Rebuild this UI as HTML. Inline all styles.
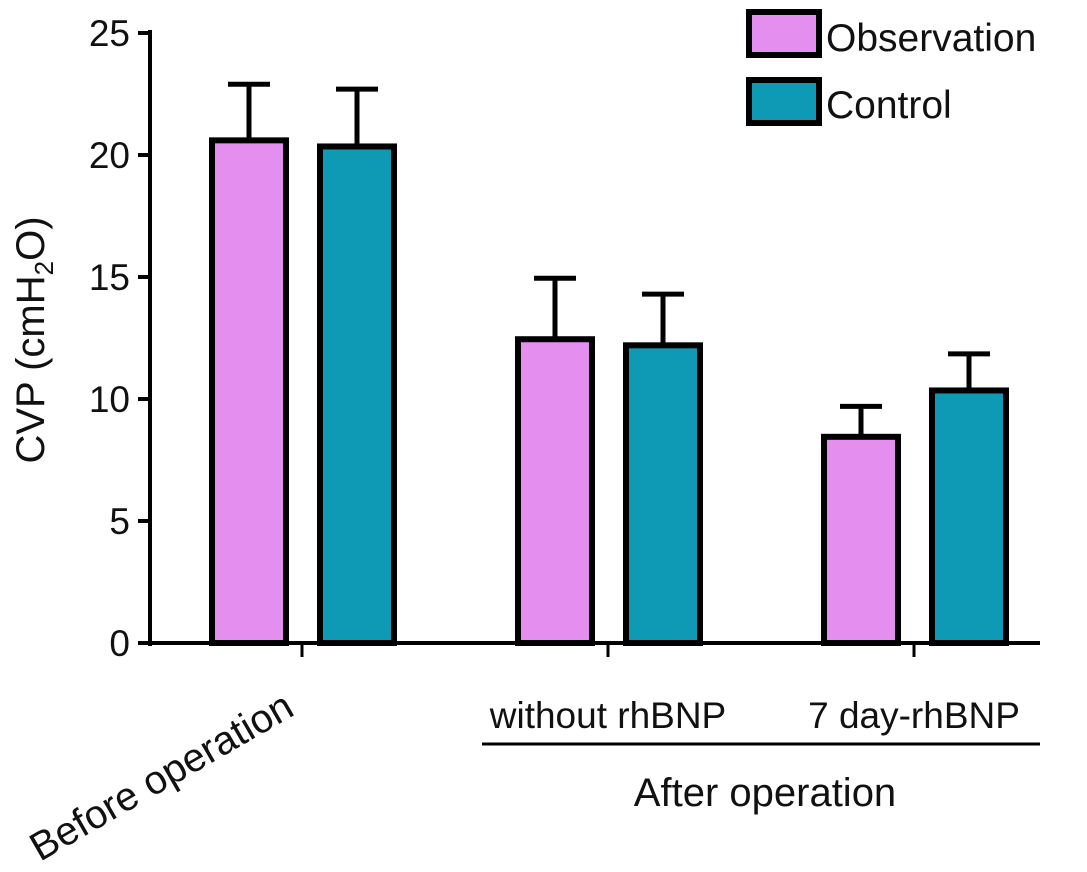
<!DOCTYPE html>
<html><head><meta charset="utf-8"><style>
html,body{margin:0;padding:0;background:#fff;}
svg{display:block;font-family:"Liberation Sans",Arial,sans-serif;}
</style></head><body>
<svg id="chart" width="1087" height="872" viewBox="0 0 1087 872" xmlns="http://www.w3.org/2000/svg">
<g id="axes"></g>
<g id="bars"></g>
<text transform="translate(44,340) rotate(-90)" text-anchor="middle" font-size="40" fill="#111">CVP (cmH<tspan font-size="26" dy="9">2</tspan><tspan dy="-9">O)</tspan></text>
<text transform="translate(40,862) rotate(-30)" font-size="40" fill="#111">Before operation</text>
<text x="608" y="728" text-anchor="middle" font-size="37" fill="#111">without rhBNP</text>
<text x="914" y="728" text-anchor="middle" font-size="37" fill="#111">7 day-rhBNP</text>
<line x1="482" y1="744" x2="1040" y2="744" stroke="#000" stroke-width="3"/>
<text x="765" y="806" text-anchor="middle" font-size="40" fill="#111">After operation</text>
<g>
<rect x="749" y="12" width="70" height="43" fill="#e48ef0" stroke="#000" stroke-width="6"/>
<text x="826" y="51" font-size="39" fill="#111">Observation</text>
<rect x="749" y="80" width="70" height="43" fill="#0e9ab5" stroke="#000" stroke-width="6"/>
<text x="826" y="118" font-size="39" fill="#111">Control</text>
</g>
</svg>
<script>
const categories = ["Before operation", "without rhBNP", "7 day-rhBNP"];
const observation = [20.6, 12.45, 8.45];
const observationErr = [2.3, 2.5, 1.25];
const control = [20.35, 12.2, 10.35];
const controlErr = [2.35, 2.1, 1.5];
const yTicks = [0, 5, 10, 15, 20, 25];

const NS = "http://www.w3.org/2000/svg";
const y0 = 643, yTop = 33, yMax = 25;
const y = v => y0 - (v / yMax) * (y0 - yTop);
const groupCenters = [302, 608, 914];
const x = i => groupCenters[i];
const barW = 74, gap = 34;
function mk(tag, attrs, parent){const e=document.createElementNS(NS,tag);for(const k in attrs)e.setAttribute(k,attrs[k]);parent.appendChild(e);return e;}
const axes = document.getElementById('axes');
const bars = document.getElementById('bars');

const yl = mk('line',{x1:150,y1:y0+3,x2:150,y2:yTop-3,stroke:'#000','stroke-width':4},axes);


const xl = mk('line',{x1:148,y1:y0,x2:1040,y2:y0,stroke:'#000','stroke-width':4},axes);


yTicks.forEach(t=>{
  const tk = mk('line',{x1:138,y1:y(t),x2:150,y2:y(t),stroke:'#000','stroke-width':4},axes);
  
  
  const tl = mk('text',{x:130,y:y(t)+13,'text-anchor':'end','font-size':37,fill:'#111'},axes);
  tl.textContent = t;
  
  
});
categories.forEach((c,i)=>{
  const tk = mk('line',{x1:x(i),y1:y0,x2:x(i),y2:y0+14,stroke:'#000','stroke-width':3},axes);
  
  
});
function drawBar(cx, v, err, fill, name){
  const top = y(v), et = y(v+err);
  const el = mk('line',{x1:cx,y1:top,x2:cx,y2:et,stroke:'#000','stroke-width':5},bars);
  
  
  const cap = mk('line',{x1:cx-21,y1:et,x2:cx+21,y2:et,stroke:'#000','stroke-width':5},bars);
  
  
  const r = mk('rect',{x:cx-barW/2,y:top,width:barW,height:y0-top,fill:fill,stroke:'#000','stroke-width':6},bars);
  
  
}
categories.forEach((c,i)=>{
  drawBar(x(i)-gap/2-barW/2+1, observation[i], observationErr[i], '#e48ef0', 'bar-observation-'+(i+1));
  drawBar(x(i)+gap/2+barW/2+1, control[i], controlErr[i], '#0e9ab5', 'bar-control-'+(i+1));
});
</script>
</body></html>
